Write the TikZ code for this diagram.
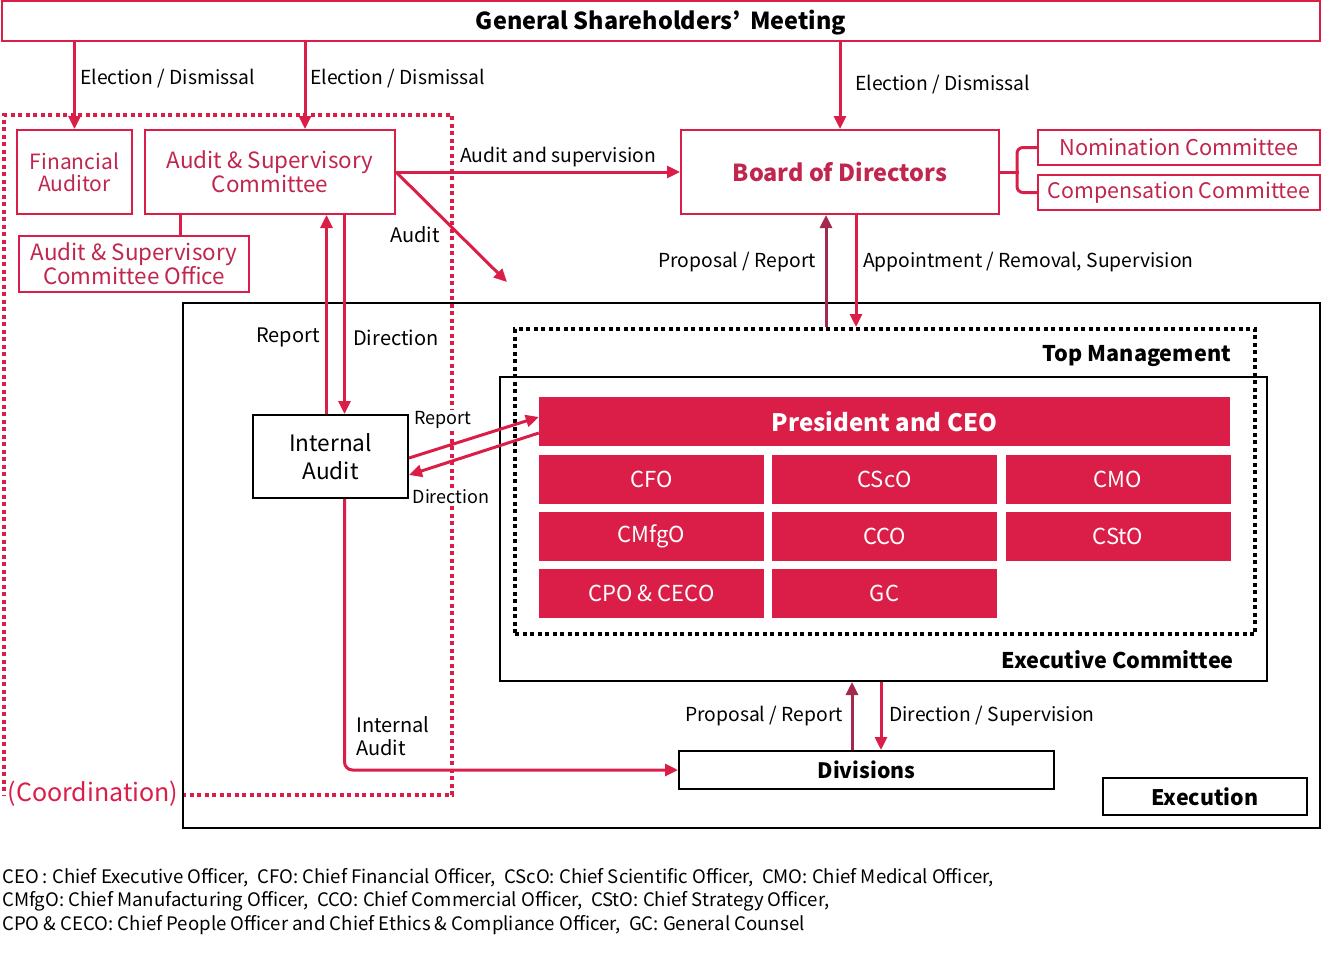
\documentclass[tikz,border=0pt]{standalone}
\usepackage{fontspec}
\setmainfont{Noto Sans CJK JP}
\usetikzlibrary{arrows.meta,positioning}
\definecolor{crim}{HTML}{DA1E48}
\definecolor{wine}{HTML}{A3294E}
\definecolor{rtext}{HTML}{C0264E}

\tikzset{
  redbox/.style={draw=crim, line width=2pt, text=rtext, inner sep=0pt, align=center,
    font=\fontsize{22.4}{22}\selectfont},
  blkbox/.style={draw=black, line width=2pt, inner sep=0pt, align=center},
  cell/.style={fill=crim, text=white, inner sep=0pt, minimum width=225pt,
    minimum height=49pt, font=\fontsize{22}{24}\selectfont},
  lbl/.style={inner sep=0pt, yshift=-1.5pt, font=\fontsize{20}{23}\selectfont},
  slbl/.style={inner sep=0pt, yshift=-1.5pt, font=\fontsize{19.3}{23}\selectfont},
  small/.style={inner sep=1pt, fill=white, yshift=-1pt, font=\fontsize{18}{20}\selectfont},
  head/.style={inner sep=0pt, yshift=-1.5pt, font=\fontsize{21.6}{24}\selectfont\bfseries},
  arr/.style={crim, line width=3pt, -{Triangle[length=13pt,width=12pt]}},
  warr/.style={wine, line width=3pt, -{Triangle[length=13pt,width=12pt]}},
  reddots/.style={crim, line width=4pt, dash pattern=on 4pt off 3.5pt},
  blkdots/.style={draw=black, line width=4pt, dash pattern=on 4pt off 3.5pt},
}

\begin{document}
\begin{tikzpicture}[x=1pt, y=-1pt]
\useasboundingbox (0,0) rectangle (1322,975);

% coordination area
\draw[reddots] (182,795) -- (452,795) -- (452,115) -- (4,115) -- (4,795);
\node[inner sep=0pt, text=crim, font=\fontsize{25}{25}\selectfont] (coord) at (93,794) {(Coordination)};

% shareholders and board level
\node[redbox, minimum width=1318pt, minimum height=40pt, text=black, text height=17pt, text depth=0pt,
  font=\fontsize{23.4}{24}\selectfont\bfseries] (gsm) at (661,21) {General Shareholders’\hspace{10pt}Meeting};
\node[redbox, minimum width=115pt, minimum height=84pt,
  font=\fontsize{21}{22}\selectfont] (fa) at (74.5,172) {Financial\\Auditor};
\node[redbox, minimum width=250pt, minimum height=84pt] (asc) at (270,172) {Audit \& Supervisory\\Committee};
\node[redbox, minimum width=230pt, minimum height=56pt] (ascoff) at (134,264) {Audit \& Supervisory\\Committee Office};
\node[redbox, minimum width=318pt, minimum height=84pt,
  font=\fontsize{23.4}{25}\selectfont\bfseries] (board) at (840,172) {Board of Directors};
\node[redbox, minimum width=282pt, minimum height=35pt,
  font=\fontsize{21.8}{22}\selectfont] (nom) at (1179,147.5) {Nomination Committee};
\node[redbox, minimum width=282pt, minimum height=35pt,
  font=\fontsize{21.4}{22}\selectfont] (comp) at (1179,192.5) {Compensation Committee};

\draw[arr] (gsm.south -| fa.north) -- (fa.north);
\draw[arr] ([xshift=35pt]asc.north |- gsm.south) -- ([xshift=35pt]asc.north);
\draw[arr] (gsm.south -| board.north) -- (board.north);
\node[slbl, anchor=west] (el1) at (80,77) {Election / Dismissal};
\node[slbl, anchor=west] (el2) at (310,77) {Election / Dismissal};
\node[slbl, anchor=west] (el3) at (855,83) {Election / Dismissal};

\draw[crim, line width=3pt] ([xshift=-90pt]asc.south) -- ([xshift=-90pt]asc.south |- ascoff.north);
\draw[crim, line width=3pt] (board.east) -- ++(19,0);
\draw[crim, line width=3pt, rounded corners=6pt] (nom.west) -- ++(-20,0) |- (comp.west);

\coordinate (auditend) at (507,282);
\draw[arr] (asc.east) -- (board.west);
\draw[arr] (asc.east) -- (auditend);
\node[slbl, anchor=west] (auds) at (460,156) {Audit and supervision};
\node[lbl] (aud) at (415,233) {Audit};

% execution side
\node[blkbox, minimum width=1137pt, minimum height=525pt] (exe) at (751.5,565.5) {};
\node[blkbox, minimum width=767pt, minimum height=304pt] (exc) at (883.5,529) {};
\node[blkdots, minimum width=740pt, minimum height=305pt] (top) at (885,481.5) {};
\node[head, anchor=east] (topl) at (1231,355) {Top Management};
\node[head, anchor=east] (excl) at (1234,658) {Executive Committee};

\node[cell, minimum width=691pt, font=\fontsize{24}{24}\selectfont\bfseries] (pres) at (884.5,421.5) {President and CEO};
\node[cell] (cfo) at (651.5,479.5) {CFO};
\node[cell] (csco) at (884.5,479.5) {CScO};
\node[cell] (cmo) at (1118,479.5) {CMO};
\node[cell] (cmfgo) at (651.5,536.5) {CMfgO};
\node[cell] (cco) at (884.5,536.5) {CCO};
\node[cell] (csto) at (1118,536.5) {CStO};
\node[cell] (cpo) at (651.5,593.5) {CPO \& CECO};
\node[cell] (gc) at (884.5,593.5) {GC};

\draw[warr] ([xshift=-14pt]board.south |- top.north) -- ([xshift=-14pt]board.south);
\draw[arr] ([xshift=16pt]board.south) -- ([xshift=16pt]board.south |- top.north);
\node[slbl, anchor=east] (pr1) at (816,261) {Proposal / Report};
\node[slbl, anchor=west] (ap1) at (863,261) {Appointment / Removal, Supervision};

% internal audit
\node[blkbox, minimum width=155pt, minimum height=83pt,
  font=\fontsize{22.6}{28}\selectfont] (ia) at (330.5,456.5) {Internal\\Audit};
\draw[arr] ([xshift=-4pt]ia.north) -- ([xshift=-4pt]ia.north |- asc.south);
\draw[arr] ([xshift=14pt]ia.north |- asc.south) -- ([xshift=14pt]ia.north);
\node[lbl, anchor=east] (rp1) at (320,336) {Report};
\node[lbl, anchor=west] (dr1) at (353,336) {Direction};

\node[small] (rp2) at (443,419) {Report};
\node[small] (dr2) at (451,496) {Direction};
\draw[arr] ([yshift=-1.5pt]ia.east) -- ([yshift=4.5pt]pres.west);
\draw[arr] ([yshift=-11.5pt]pres.west) -- ([yshift=-18.5pt]ia.east);

% divisions
\node[blkbox, minimum width=375pt, minimum height=38pt,
  font=\fontsize{21.2}{24}\selectfont\bfseries] (div) at (866.5,770) {Divisions};
\node[blkbox, minimum width=204pt, minimum height=37pt,
  font=\fontsize{21.4}{24}\selectfont\bfseries] (exec) at (1205,796.5) {Execution};

\draw[arr, rounded corners=8pt] ([xshift=14pt]ia.south) |- (div.west);
\node[lbl, anchor=west, align=left] (ial) at (356,735) {Internal\\Audit};
\draw[warr] ([xshift=-14.5pt]div.north) -- ([xshift=-14.5pt]div.north |- exc.south);
\draw[arr] ([xshift=14.5pt]div.north |- exc.south) -- ([xshift=14.5pt]div.north);
\node[slbl, anchor=east] (pr2) at (843,715) {Proposal / Report};
\node[slbl, anchor=west] (ds2) at (889,715) {Direction / Supervision};

% notes
\node[lbl, anchor=west, font=\fontsize{18.6}{20}\selectfont] (n1) at (2,876) {CEO : Chief Executive Officer,\ \ CFO: Chief Financial Officer,\ \ CScO: Chief Scientific Officer,\ \ CMO: Chief Medical Officer,};
\node[lbl, anchor=west, font=\fontsize{18.6}{20}\selectfont] (n2) at (2,900) {CMfgO: Chief Manufacturing Officer,\ \ CCO: Chief Commercial Officer,\ \ CStO: Chief Strategy Officer,};
\node[lbl, anchor=west, font=\fontsize{18.6}{20}\selectfont] (n3) at (2,924) {CPO \& CECO: Chief People Officer and Chief Ethics \& Compliance Officer,\ \ GC: General Counsel};
\end{tikzpicture}
\end{document}
